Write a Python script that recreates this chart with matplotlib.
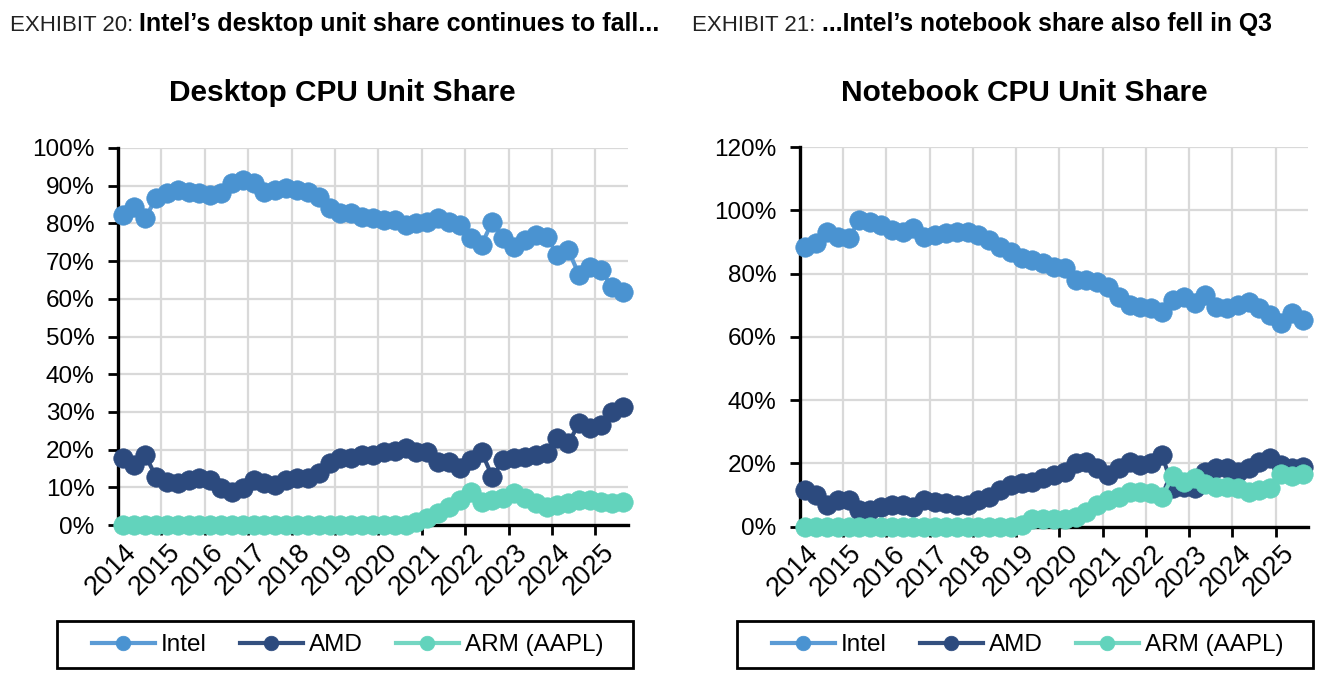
import numpy as np
import matplotlib
matplotlib.use("Agg")
import matplotlib.pyplot as plt
from matplotlib.patches import Rectangle

plt.rcParams['font.family'] = ['Liberation Sans', 'DejaVu Sans']

# quarterly data, 2014 Q1 .. 2025 Q3
year_labels = ['2014', '2015', '2016', '2017', '2018', '2019',
               '2020', '2021', '2022', '2023', '2024', '2025']
series_names = ['Intel', 'AMD', 'ARM (AAPL)']

desktop_intel = [82.2, 84.4, 81.3, 86.7, 88.0, 88.9, 88.4, 88.0, 87.5, 88.0,
                 90.6, 91.5, 90.6, 88.4, 88.9, 89.3, 88.9, 88.4, 87.1, 84.0,
                 82.7, 82.7, 81.8, 81.3, 80.9, 80.9, 79.6, 80.0, 80.5, 81.3,
                 80.5, 79.6, 76.0, 74.3, 80.5, 76.0, 73.8, 75.6, 76.9, 76.5,
                 71.6, 72.9, 66.3, 68.5, 67.6, 63.2, 61.9]
desktop_amd = [17.7, 15.9, 18.6, 12.8, 11.5, 11.1, 11.9, 12.4, 11.9, 9.7,
               8.8, 9.7, 11.9, 11.1, 10.6, 11.9, 12.4, 12.4, 13.7, 16.4,
               17.7, 17.7, 18.6, 18.6, 19.4, 19.6, 20.3, 19.4, 19.4, 16.8,
               16.8, 15.0, 17.2, 19.4, 12.8, 17.2, 17.7, 18.1, 18.6, 19.0,
               23.0, 21.7, 27.0, 25.6, 26.5, 30.0, 31.4]
desktop_arm = [0, 0, 0, 0, 0, 0, 0, 0, 0, 0,
               0, 0, 0, 0, 0, 0, 0, 0, 0, 0,
               0, 0, 0, 0, 0, 0, 0, 0.9, 1.8, 3.1,
               4.9, 6.6, 8.8, 6.2, 6.6, 7.1, 8.5, 7.1, 5.8, 4.9,
               5.3, 5.8, 6.6, 6.6, 6.2, 5.8, 6.2]

notebook_intel = [88.5, 89.6, 93.2, 91.7, 91.1, 96.9, 96.4, 95.4, 93.8, 93.2,
                  94.3, 91.7, 92.2, 92.7, 93.2, 93.2, 92.2, 90.6, 88.5, 86.9,
                  84.8, 84.3, 83.2, 82.0, 81.7, 78.0, 78.0, 77.4, 75.9, 72.7,
                  70.1, 69.5, 69.0, 68.0, 71.6, 72.7, 70.6, 73.2, 69.5, 69.0,
                  70.1, 71.1, 69.0, 66.9, 64.3, 67.4, 65.3]
notebook_amd = [11.6, 10.0, 6.9, 8.4, 8.4, 5.3, 5.3, 6.3, 6.9, 6.9,
                6.3, 8.4, 7.9, 7.4, 6.9, 6.9, 8.4, 9.5, 11.6, 13.2,
                13.7, 14.2, 15.3, 16.3, 17.4, 20.0, 20.5, 18.5, 16.3, 18.5,
                20.5, 19.5, 20.0, 22.7, 12.1, 12.6, 12.1, 17.4, 18.5, 18.5,
                17.4, 18.5, 20.5, 21.6, 19.5, 18.5, 19.0]
notebook_arm = [0, 0, 0, 0, 0, 0, 0, 0, 0, 0,
                0, 0, 0, 0, 0, 0, 0, 0, 0, 0,
                0.5, 2.5, 2.5, 2.5, 2.5, 3.0, 4.7, 6.8, 8.4, 9.5,
                11.0, 11.0, 10.5, 9.5, 16.0, 14.2, 15.5, 13.5, 12.6, 12.6,
                12.3, 11.0, 11.6, 12.3, 16.5, 16.0, 16.5]

colors = ['#4a93d1', '#2c4a7e', '#62d3bc']
line_colors = ['#5b9bd5', '#34507f', '#74d6c2']

W, H = 1336, 695
fig = plt.figure(figsize=(W / 100, H / 100), dpi=100)


def place(l, t, r, b):
    return [l / W, 1 - b / H, (r - l) / W, (b - t) / H]


def draw_panel(ax, data, ymax, ystep):
    n = len(data[0])
    x = np.arange(n)
    lines = []
    for vals, c, lc, name in zip(data, colors, line_colors, series_names):
        ln, = ax.plot(x, vals, color=lc, lw=3, marker='o', ms=14,
                      mfc=c, mec=c, mew=0.5, clip_on=False, zorder=4,
                      label=name)
        lines.append(ln)
    ax.set_xlim(-0.5, n - 0.5)
    ax.set_ylim(0, ymax)
    ax.set_yticks(np.arange(0, ymax + 1, ystep))
    ax.yaxis.set_major_formatter(lambda v, p: f"{v:.0f}%")
    # boundaries between years carry the grid and tick marks
    ax.set_xticks(np.arange(3.5, n - 1, 4))
    ax.set_xticklabels([])
    ax.set_xticks(np.arange(0, n, 4), minor=True)
    ax.set_xticklabels(year_labels, minor=True, rotation=45, ha='right',
                       va='top', rotation_mode='anchor', fontsize=19.5)
    ax.tick_params(axis='x', which='minor', length=0, pad=10)
    ax.tick_params(axis='x', which='major', length=7, width=2, color='black',
                   direction='out')
    ax.tick_params(axis='y', length=7, width=2, pad=10, labelsize=17.5)
    ax.grid(True, which='major', color='#d9d9d9', lw=1.6)
    ax.set_axisbelow(True)
    for s in ['top', 'right']:
        ax.spines[s].set_visible(False)
    for s in ['left', 'bottom']:
        ax.spines[s].set_linewidth(2.4)
        ax.spines[s].set_zorder(3)
    return lines


ax1 = fig.add_axes(place(118, 148, 628, 525))
ax2 = fig.add_axes(place(800, 147, 1308, 526.7))

h1 = draw_panel(ax1, [desktop_intel, desktop_amd, desktop_arm], 100, 10)
h2 = draw_panel(ax2, [notebook_intel, notebook_amd, notebook_arm], 120, 20)

for hh, (l, r) in zip([h1, h2], [(57, 633), (737, 1313)]):
    fig.patches.append(Rectangle((l / W, 1 - 668 / H), (r - l) / W, 47 / H,
                                 transform=fig.transFigure, fill=False,
                                 edgecolor='black', lw=2))
    fig.legend(handles=hh, loc='center', ncol=3,
               bbox_to_anchor=((l + 290.5) / W, 1 - 645 / H),
               fontsize=17.5, frameon=False, handlelength=2.6,
               handletextpad=0.25, columnspacing=1.35, markerscale=0.75,
               borderpad=0, borderaxespad=0)

# chart titles
fig.text(342 / W, 1 - 93 / H, 'Desktop CPU Unit Share', ha='center',
         va='center', fontsize=21.5, weight='bold')
fig.text(1024 / W, 1 - 93 / H, 'Notebook CPU Unit Share', ha='center',
         va='center', fontsize=21.5, weight='bold')

# exhibit headers
headers = [(10, 'EXHIBIT 20: ', 'Intel’s desktop unit share continues to fall...', 18),
           (692, 'EXHIBIT 21: ', '...Intel’s notebook share also fell in Q3', 17.8)]
for hx, pre, bold, bsize in headers:
    t1 = fig.text(hx / W, 1 - 31 / H, pre, va='baseline', fontsize=16,
                  color='#222222')
    ax1.annotate(bold, xy=(1, 0), xycoords=t1, va='bottom', fontsize=bsize,
                 weight='bold', color='black', annotation_clip=False)

fig.savefig('out.png', dpi=100, facecolor='white')
